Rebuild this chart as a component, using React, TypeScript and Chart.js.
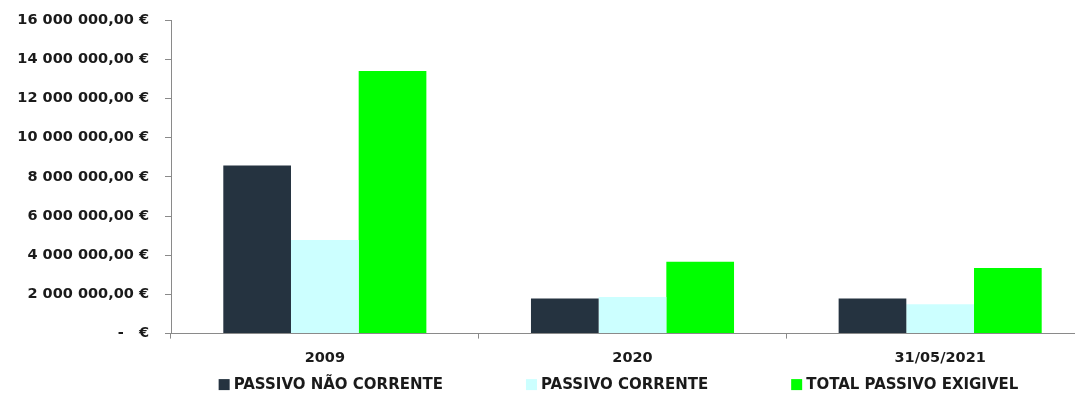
import React, { useEffect, useRef } from "react";
import { Chart, registerables } from "chart.js";

Chart.register(...registerables);

const categories = ["2009", "2020", "31/05/2021"];
const passivoNaoCorrente = [8580000, 1790000, 1790000];
const passivoCorrente = [4770000, 1870000, 1500000];
const totalPassivoExigivel = [13400000, 3660000, 3350000];
const seriesLabels = ["PASSIVO NÃO CORRENTE", "PASSIVO CORRENTE", "TOTAL PASSIVO EXIGIVEL"];
const seriesColors = ["#253340", "#CCFFFF", "#00FF00"];

const FONT = "'DejaVu Sans', sans-serif";
const TEXT = "#1a1a1a";
const AXIS = "#8a8a8a";

function formatEuro(v: number): string {
  if (v === 0) return "-   €";
  const s = Math.round(v).toString().replace(/\B(?=(\d{3})+(?!\d))/g, " ");
  return s + ",00 €";
}

const legendPlugin = {
  id: "bottomLegend",
  afterDraw(chart: any) {
    const ctx = chart.ctx;
    const area = chart.chartArea;
    const box = 11;
    const gapText = 4;
    const gap = 83;
    ctx.save();
    ctx.font = "bold 15px " + FONT;
    const items = chart.data.datasets.map((ds: any) => ({
      text: ds.label,
      color: ds.backgroundColor,
      w: box + gapText + ctx.measureText(ds.label).width,
    }));
    const total = items.reduce((a: number, it: any) => a + it.w, 0) + gap * (items.length - 1);
    let x = (area.left + area.right) / 2 - 14 - total / 2;
    const y = area.bottom + 51;
    ctx.textBaseline = "middle";
    ctx.textAlign = "left";
    for (const it of items) {
      ctx.fillStyle = it.color;
      ctx.fillRect(x, y - box / 2, box, box);
      ctx.fillStyle = TEXT;
      ctx.fillText(it.text, x + box + gapText, y + 1);
      x += it.w + gap;
    }
    ctx.restore();
  },
};

export default function App() {
  const ref = useRef<HTMLCanvasElement | null>(null);
  useEffect(() => {
    if (!ref.current) return;
    const chart = new Chart(ref.current, {
      type: "bar",
      data: {
        labels: categories,
        datasets: [
          { label: seriesLabels[0], data: passivoNaoCorrente, backgroundColor: seriesColors[0] },
          { label: seriesLabels[1], data: passivoCorrente, backgroundColor: seriesColors[1] },
          { label: seriesLabels[2], data: totalPassivoExigivel, backgroundColor: seriesColors[2] },
        ],
      },
      options: {
        animation: false,
        responsive: true,
        maintainAspectRatio: false,
        layout: { padding: { top: 20, right: 6, bottom: 33, left: 0 } },
        datasets: { bar: { categoryPercentage: 0.66, barPercentage: 1 } },
        plugins: {
          legend: { display: false },
          tooltip: { enabled: false },
        },
        scales: {
          x: {
            offset: true,
            grid: {
              display: true,
              offset: true,
              drawOnChartArea: false,
              drawTicks: true,
              tickLength: 5,
              color: AXIS,
            },
            border: { display: true, color: AXIS, width: 1 },
            ticks: { color: TEXT, font: { family: FONT, size: 14.5, weight: "bold" }, padding: 11 },
          },
          y: {
            min: 0,
            max: 16000000,
            afterFit(scale: any) {
              scale.width = 171;
              scale.paddingTop = 0;
              scale.paddingBottom = 0;
            },
            grid: {
              display: true,
              drawOnChartArea: false,
              drawTicks: true,
              tickLength: 6,
              color: AXIS,
            },
            border: { display: true, color: AXIS, width: 1 },
            ticks: {
              stepSize: 2000000,
              color: TEXT,
              padding: 16,
              font: { family: FONT, size: 14.5, weight: "bold" },
              callback: (v: any) => formatEuro(Number(v)),
            },
          },
        },
      },
      plugins: [legendPlugin],
    });
    return () => chart.destroy();
  }, []);
  return (
    <div style={{ position: "fixed", left: 0, top: 0, width: 1075, height: 411, overflow: "hidden", background: "#fff" }}>
      <div style={{ position: "absolute", left: 0, top: 0, width: 1100, height: 411 }}>
        <canvas ref={ref} />
      </div>
    </div>
  );
}
